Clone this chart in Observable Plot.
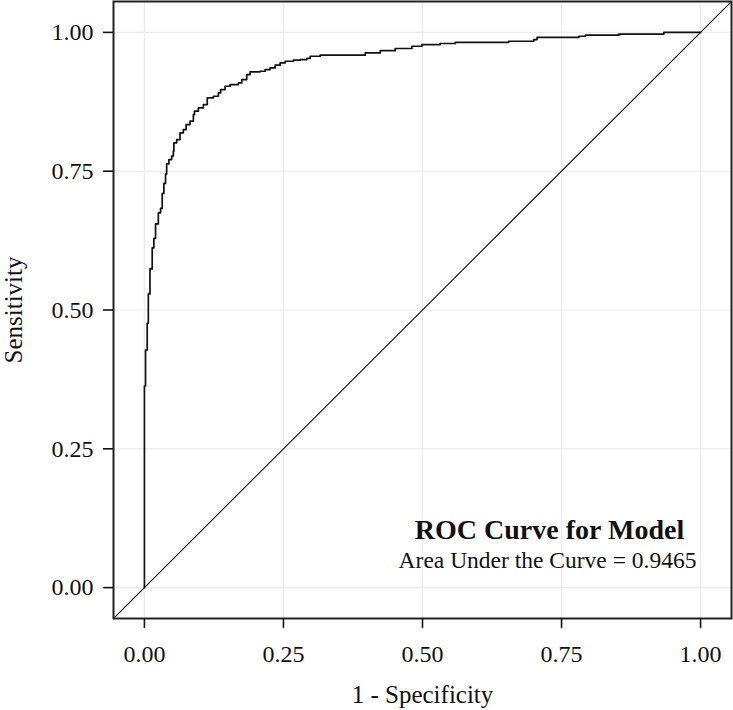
<!DOCTYPE html>
<html><head><meta charset="utf-8">
<script src="https://cdn.jsdelivr.net/npm/d3@7"></script>
<script src="https://cdn.jsdelivr.net/npm/@observablehq/plot@0.6"></script>
<style>body{margin:0;background:#fff}</style>
</head><body><div id="chart"></div>
<script>
const fpr = [0, 0, 0.002, 0.005, 0.007, 0.010, 0.014, 0.017, 0.020, 0.025, 0.029, 0.032, 0.035, 0.038, 0.040, 0.044, 0.049, 0.052, 0.053, 0.058, 0.064, 0.070, 0.075, 0.082, 0.088, 0.090, 0.097, 0.106, 0.113, 0.124, 0.133, 0.137, 0.145, 0.154, 0.169, 0.175, 0.184, 0.190, 0.208, 0.217, 0.226, 0.235, 0.244, 0.253, 0.268, 0.280, 0.292, 0.298, 0.316, 0.397, 0.424, 0.451, 0.481, 0.499, 0.532, 0.559, 0.655, 0.700, 0.706, 0.781, 0.793, 0.853, 0.934, 1.0];
const tpr = [0, 0.363, 0.428, 0.476, 0.529, 0.574, 0.612, 0.629, 0.655, 0.675, 0.683, 0.710, 0.728, 0.745, 0.763, 0.771, 0.777, 0.786, 0.801, 0.807, 0.819, 0.825, 0.834, 0.840, 0.852, 0.858, 0.864, 0.870, 0.882, 0.885, 0.891, 0.897, 0.903, 0.906, 0.909, 0.915, 0.924, 0.929, 0.930, 0.933, 0.936, 0.941, 0.945, 0.948, 0.950, 0.951, 0.953, 0.957, 0.959, 0.963, 0.967, 0.971, 0.975, 0.978, 0.980, 0.982, 0.984, 0.987, 0.991, 0.993, 0.995, 0.997, 1.0, 1.0];
const tickValues = [0, 0.25, 0.5, 0.75, 1];
const tickLabels = ["0.00", "0.25", "0.50", "0.75", "1.00"];
const xTitle = "1 - Specificity";
const yTitle = "Sensitivity";
const annotTitle = "ROC Curve for Model";
const annotSub = "Area Under the Curve = 0.9465";
const axisDomain = [-0.0556, 1.0556];

const roc = fpr.map((f, i) => ({fpr: f, tpr: tpr[i]}));
const diag = axisDomain.map(v => ({v}));
const fmt = d => tickLabels[tickValues.indexOf(d)];
const font = "Liberation Serif, Times New Roman, serif";

const chart = Plot.plot({
  width: 733, height: 710,
  marginLeft: 113, marginRight: 2, marginTop: 1, marginBottom: 92,
  style: {fontFamily: font, fontSize: "24px", color: "#111", background: "#fff"},
  x: {domain: axisDomain, label: null},
  y: {domain: axisDomain, label: null},
  marks: [
    Plot.gridX(tickValues, {stroke: "#ebebeb", strokeOpacity: 1, strokeWidth: 1.2}),
    Plot.gridY(tickValues, {stroke: "#ebebeb", strokeOpacity: 1, strokeWidth: 1.2}),
    Plot.line(diag, {x: "v", y: "v", stroke: "#111", strokeWidth: 1.1, clip: true}),
    Plot.line(roc, {x: "fpr", y: "tpr", curve: "step-after", stroke: "#111", strokeWidth: 1.7}),
    Plot.frame({stroke: "#222", strokeWidth: 2}),
    Plot.axisX(tickValues, {tickFormat: fmt, tickSize: 10, tickPadding: 16, strokeWidth: 1.6, fontSize: 24, label: null}),
    Plot.axisY(tickValues, {tickFormat: fmt, tickSize: 10, tickPadding: 10, strokeWidth: 1.6, fontSize: 24, label: null}),
    Plot.text([xTitle], {frameAnchor: "bottom", lineAnchor: "bottom", dy: 84, fontSize: 25}),
    Plot.text([yTitle], {frameAnchor: "left", textAnchor: "middle", lineAnchor: "bottom", rotate: -90, dx: -92, fontSize: 25}),
    Plot.text([annotTitle], {frameAnchor: "bottom-right", textAnchor: "middle", lineAnchor: "bottom", dx: -182, dy: -80, fontSize: 28, fontWeight: "bold"}),
    Plot.text([annotSub], {frameAnchor: "bottom-right", textAnchor: "middle", lineAnchor: "bottom", dx: -184, dy: -51, fontSize: 23.5})
  ]
});
document.getElementById("chart").appendChild(chart);
</script>
</body></html>
